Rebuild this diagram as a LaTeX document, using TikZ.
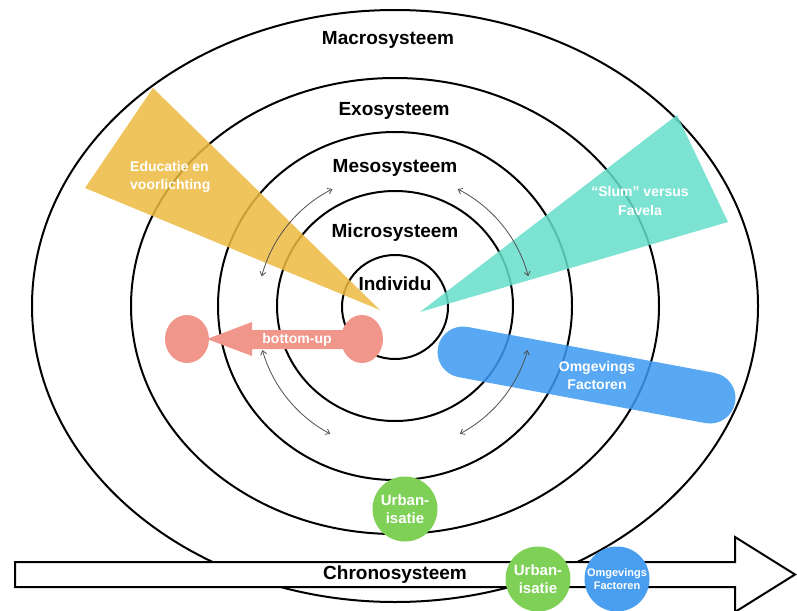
\documentclass[tikz,border=0pt]{standalone}
\usepackage{fontspec}
\setmainfont{Liberation Sans}
\usetikzlibrary{arrows.meta}
\definecolor{eduyellow}{RGB}{237,186,64}
\definecolor{slumteal}{RGB}{102,223,204}
\definecolor{omgblue}{RGB}{61,153,243}
\definecolor{bupink}{RGB}{240,150,138}
\definecolor{urbgreen}{RGB}{126,208,86}
\definecolor{omgcircle}{RGB}{74,158,240}
\definecolor{arcgray}{RGB}{80,80,80}
\begin{document}
\begin{tikzpicture}[x=1pt,y=-1pt,
  ring/.style={draw=black,line width=2pt},
  syslabel/.style={font=\bfseries\fontsize{19}{22}\selectfont,inner sep=0pt},
  whitelabel/.style={font=\bfseries\fontsize{14}{18.5}\selectfont,text=white,inner sep=0pt,align=center},
  twoway/.style={draw=arcgray,line width=0.8pt,{Straight Barb[length=4pt,width=6pt]}-{Straight Barb[length=4pt,width=6pt]}},
  dot/.style={circle,inner sep=0pt,minimum size=65pt,text=white,align=center},
]
\useasboundingbox (0,0) rectangle (797,610);
\fill[white] (0,0) rectangle (797,610);
\coordinate (c) at (395,306);
\coordinate (ac) at (395,312);
% rings
\draw[ring] (c) ellipse [x radius=363, y radius=296];
\draw[ring] (c) ellipse [x radius=264, y radius=228];
\draw[ring] (c) ellipse [x radius=177, y radius=174];
\draw[ring] (c) ellipse [x radius=118, y radius=115];
\draw[ring] (395,307) ellipse [x radius=53, y radius=52];
% labels
\node[syslabel] (macro) at (388,40) {Macrosysteem};
\node[syslabel] (exo) at (394,111) {Exosysteem};
\node[syslabel] (meso) at (395,168) {Mesosysteem};
\node[syslabel] (micro) at (395,233) {Microsysteem};
\node[syslabel] (indiv) at (395,284) {Individu};
% triangles
\coordinate (e1) at (153,88);
\coordinate (e2) at (85,188);
\coordinate (e3) at (380,310);
\fill[eduyellow,opacity=0.85] (e1) -- (e2) -- (e3) -- cycle;
\node[whitelabel,align=left,anchor=west] (edu) at (130,177) {Educatie en\\voorlichting};
\coordinate (s1) at (677,115);
\coordinate (s2) at (728,222);
\coordinate (s3) at (420,312);
\fill[slumteal,opacity=0.85] (s1) -- (s2) -- (s3) -- cycle;
\node[whitelabel] (slum) at (640,201) {“Slum” versus\\Favela};
% blue bar
\coordinate (b1) at (463,352);
\coordinate (b2) at (710,398);
\draw[omgblue,opacity=0.85,line width=51pt,line cap=round] (b1) -- (b2);
\node[whitelabel] (omg) at (597,375.5) {Omgevings\\Factoren};
% pink bottom-up arrow
\fill[bupink] (362,330) -- (252,330) -- (252,322) -- (207,339) -- (252,356) -- (252,349) -- (362,349) -- cycle;
\fill[bupink] (187,339) ellipse [x radius=22, y radius=24];
\fill[bupink] (362,339) ellipse [x radius=21, y radius=24];
\node[whitelabel] (bu) at (297,340) {bottom-up};
% two-way arcs
\draw[twoway] ([shift={(-117:138)}]ac) arc[start angle=-117, end angle=-165, radius=138];
\draw[twoway] ([shift={(-15:138)}]ac) arc[start angle=-15, end angle=-63, radius=138];
\draw[twoway] ([shift={(-196:138)}]ac) arc[start angle=-196, end angle=-242, radius=138];
\draw[twoway] ([shift={(-298:138)}]ac) arc[start angle=-298, end angle=-344, radius=138];
% urbanisatie circle on exo ring
\node[dot,fill=urbgreen,font=\bfseries\fontsize{15}{18}\selectfont] (urb1) at (405,509) {Urban-\\isatie};
% chrono arrow
\draw[line width=2pt,fill=white] (15,562) -- (735,562) -- (735,537) -- (795,574.5) -- (735,612) -- (735,587) -- (15,587) -- cycle;
\node[syslabel] (chrono) at (395,575) {Chronosysteem};
\node[dot,fill=urbgreen,font=\bfseries\fontsize{15}{18}\selectfont] (urb2) at (538,579) {Urban-\\isatie};
\node[dot,fill=omgcircle,font=\bfseries\fontsize{11}{13}\selectfont] (omg2) at (617,579) {Omgevings\\Factoren};
\end{tikzpicture}
\end{document}
